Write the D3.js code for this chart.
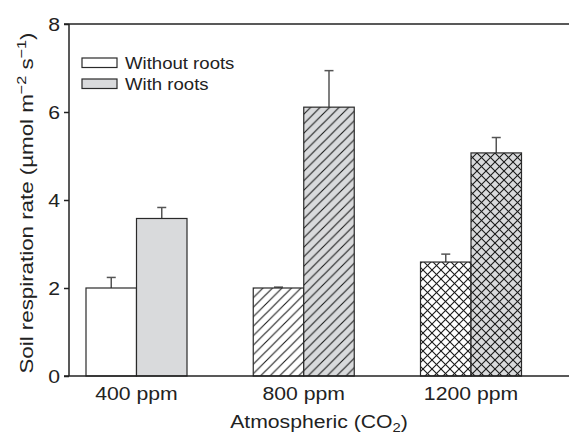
<!DOCTYPE html>
<html><head><meta charset="utf-8">
<script src="https://cdn.jsdelivr.net/npm/d3@7"></script>
<style>body{margin:0;background:#fff}text{font-family:"Liberation Sans",Arial,sans-serif;fill:#222}</style>
</head><body><svg id="c" width="569" height="434"></svg>
<script>
const categories = ["400 ppm", "800 ppm", "1200 ppm"];
const series = ["Without roots", "With roots"];
const withoutRoots = [2.0, 2.0, 2.59];
const withoutRootsErr = [0.24, 0.02, 0.18];
const withRoots = [3.58, 6.11, 5.07];
const withRootsErr = [0.25, 0.83, 0.35];
const yTicks = [0, 2, 4, 6, 8];

const svg = d3.select("#c");
const SX = 1.14;
const x0 = 69, x1 = 569, yTop = 24, yBot = 376;
const y = d3.scaleLinear().domain([0, 8]).range([yBot, yTop]);
const xc = d3.scalePoint().domain(categories).range([136.5, 471]);
const xs = d3.scaleBand().domain(series).range([-50.5, 50.5]).padding(0);

const defs = svg.append("defs");
function hatch(id, bg, cross, p) {
  const pat = defs.append("pattern").attr("id", id).attr("patternUnits", "userSpaceOnUse")
    .attr("width", p).attr("height", p);
  pat.append("rect").attr("width", p).attr("height", p).attr("fill", bg);
  pat.append("path").attr("d", `M0,${p} L${p},0 M${-p/2},${p/2} L${p/2},${-p/2} M${p/2},${p*1.5} L${p*1.5},${p/2}`)
    .attr("stroke", "#1a1a1a").attr("stroke-width", 1.1).attr("fill", "none");
  if (cross) pat.append("path").attr("d", `M0,0 L${p},${p} M${-p/2},${p/2} L${p/2},${p*1.5} M${p/2},${-p/2} L${p*1.5},${p/2}`)
    .attr("stroke", "#1a1a1a").attr("stroke-width", 1.1).attr("fill", "none");
}
const GRAY = "#d9dadc";
hatch("d0", "#fff", false, 9.5);
hatch("d1", GRAY, false, 9.5);
hatch("c0", "#fff", true, 9);
hatch("c1", GRAY, true, 9);
const fills = [["#fff", GRAY], ["url(#d0)", "url(#d1)"], ["url(#c0)", "url(#c1)"]];

const data = [];
categories.forEach((c, i) => {
  data.push({c, i, s: series[0], si: 0, v: withoutRoots[i], e: withoutRootsErr[i]});
  data.push({c, i, s: series[1], si: 1, v: withRoots[i], e: withRootsErr[i]});
});

// error bars (behind bars)
const eb = svg.append("g").attr("stroke", "#555").attr("stroke-width", 1.5);
data.forEach(d => {
  const cx = xc(d.c) + xs(d.s) + xs.bandwidth() / 2;
  eb.append("line").attr("x1", cx).attr("x2", cx).attr("y1", y(d.v)).attr("y2", y(d.v + d.e));
  eb.append("line").attr("x1", cx - 4.5).attr("x2", cx + 4.5).attr("y1", y(d.v + d.e)).attr("y2", y(d.v + d.e));
});

svg.append("g").selectAll("rect").data(data).join("rect")
  .attr("x", d => xc(d.c) + xs(d.s))
  .attr("width", xs.bandwidth())
  .attr("y", d => y(d.v))
  .attr("height", d => y(0) - y(d.v))
  .attr("fill", d => fills[d.i][d.si])
  .attr("stroke", "#2a2a2a").attr("stroke-width", 1.2);

// axes
const yAxis = svg.append("g").attr("transform", `translate(${x0},0)`)
  .call(d3.axisLeft(y).tickValues(yTicks).tickSize(5).tickFormat(d3.format("d")));
yAxis.select(".domain").remove();
yAxis.selectAll("line").attr("stroke", "#222").attr("stroke-width", 1.5);
yAxis.selectAll("text")
  .attr("x", 0).attr("dy", null).attr("y", 0)
  .attr("transform", `translate(-9,6.5) scale(${SX},1)`)
  .attr("text-anchor", "end").attr("font-size", 18.6).style("fill", "#222");
svg.append("line").attr("x1", x0).attr("x2", x0).attr("y1", yTop).attr("y2", yBot).attr("stroke", "#222").attr("stroke-width", 1.5);
svg.append("line").attr("x1", x0 - 5).attr("x2", x1).attr("y1", yTop).attr("y2", yTop).attr("stroke", "#222").attr("stroke-width", 1.5);
svg.append("line").attr("x1", x0 - 5).attr("x2", x1).attr("y1", yBot).attr("y2", yBot).attr("stroke", "#222").attr("stroke-width", 1.5);

// x labels
svg.append("g").selectAll("text").data(categories).join("text")
  .attr("transform", d => `translate(${xc(d)},400) scale(${SX},1)`)
  .attr("text-anchor", "middle").attr("font-size", 18.6).text(d => d);

const xt = svg.append("text").attr("transform", `translate(319,428) scale(1.19,1)`)
  .attr("text-anchor", "middle").attr("font-size", 17.8);
xt.append("tspan").text("Atmospheric (CO");
xt.append("tspan").attr("font-size", 12.5).attr("dy", 4).text("2");
xt.append("tspan").attr("dy", -4).text(")");

const yt = svg.append("text").attr("transform", `translate(33,203) rotate(-90) scale(1.2,1)`)
  .attr("text-anchor", "middle").attr("font-size", 18.6);
yt.append("tspan").text("Soil respiration rate (\u00b5mol m");
yt.append("tspan").attr("font-size", 13.5).attr("dy", -7).text("\u22122");
yt.append("tspan").attr("dy", 7).text(" s");
yt.append("tspan").attr("font-size", 13.5).attr("dy", -7).text("\u22121");
yt.append("tspan").attr("dy", 7).text(")");

// legend
const lg = svg.append("g");
series.forEach((s, i) => {
  lg.append("rect").attr("x", 82).attr("y", 58 + i * 21).attr("width", 35).attr("height", 9.5)
    .attr("fill", i ? GRAY : "#fff").attr("stroke", "#2a2a2a").attr("stroke-width", 1.2);
  lg.append("text").attr("transform", `translate(125,${68.5 + i * 21}) scale(${SX},1)`)
    .attr("font-size", 16.3).text(s);
});
</script></body></html>
